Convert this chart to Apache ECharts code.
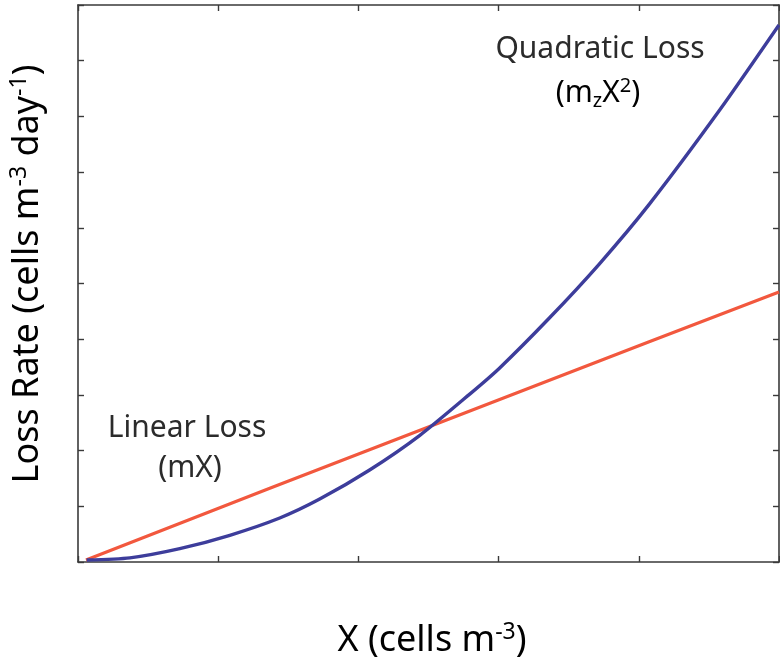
<!DOCTYPE html>
<html>
<head>
<meta charset="utf-8">
<script src="https://cdn.jsdelivr.net/npm/echarts@6/dist/echarts.min.js"></script>
<style>
  html, body { margin: 0; padding: 0; background: #fff; }
  #chart { width: 780px; height: 671px; }
</style>
</head>
<body>
<div id="chart"></div>
<script>
// Population density X (cells m^-3) and loss rate readings for both loss terms
const linearX = [0.057, 1.368, 4.074, 5.0];
const linearY = [0.036, 1.323, 3.955, 4.847];

const quadX = [0.062, 0.370, 0.726, 1.083, 1.439, 1.724, 2.080, 2.436, 2.792, 3.006, 3.362, 3.718, 4.074, 4.573, 5.0];
const quadY = [0.036, 0.075, 0.240, 0.480, 0.790, 1.130, 1.652, 2.270, 3.010, 3.480, 4.380, 5.350, 6.420, 8.100, 9.641];

const xRange = [0, 5];
const yRange = [0, 10];

const FONT = '"Noto Sans", "Open Sans", sans-serif';
const TEXT = '#2b2b2b';
const AXIS = '#3a3a3a';

const pairs = (xs, ys) => xs.map((x, i) => [x, ys[i]]);

// rich-text styles for axis titles (large) and curve annotations (smaller)
const big = { fontSize: 36, fontFamily: FONT, color: TEXT };
const bigSup = { fontSize: 23, fontFamily: FONT, color: TEXT, padding: [0, 0, 17, 0] };
const note = { fontSize: 30, fontFamily: FONT, color: TEXT };
const noteSup = { fontSize: 20, fontFamily: FONT, color: TEXT, padding: [0, 0, 14, 0] };
const noteSub = { fontSize: 20, fontFamily: FONT, color: TEXT, padding: [16, 0, 0, 0] };

const boxAxis = (extra) => Object.assign({
  type: 'value',
  axisLine: { show: true, onZero: false, lineStyle: { color: AXIS, width: 1.6 } },
  axisTick: { show: true, inside: true, length: 6, lineStyle: { color: AXIS, width: 1.4 } },
  axisLabel: { show: false },
  splitLine: { show: false }
}, extra);

const chart = echarts.init(document.getElementById('chart'), null, { renderer: 'canvas' });

chart.setOption({
  backgroundColor: '#ffffff',
  animation: false,
  grid: { left: 78, top: 5, width: 701, height: 557, containLabel: false, outerBoundsMode: 'none' },
  xAxis: [
    boxAxis({ position: 'bottom', min: xRange[0], max: xRange[1], interval: 1 }),
    boxAxis({ position: 'top', min: xRange[0], max: xRange[1], interval: 1 })
  ],
  yAxis: [
    boxAxis({ position: 'left', min: yRange[0], max: yRange[1], interval: 1 }),
    boxAxis({ position: 'right', min: yRange[0], max: yRange[1], interval: 1 })
  ],
  series: [
    {
      name: 'Linear Loss',
      type: 'line',
      data: pairs(linearX, linearY),
      showSymbol: false,
      lineStyle: { color: '#f2583e', width: 3.2 },
      z: 2
    },
    {
      name: 'Quadratic Loss',
      type: 'line',
      data: pairs(quadX, quadY),
      smooth: 0.25,
      showSymbol: false,
      lineStyle: { color: '#3d3d9b', width: 3.4 },
      z: 3
    }
  ],
  graphic: [
    {
      type: 'text', x: 432, y: 641,
      style: {
        text: '{b|X (cells m}{s|-3}{b|)}',
        align: 'center', verticalAlign: 'middle',
        rich: { b: big, s: bigSup }
      }
    },
    {
      type: 'text', x: 28, y: 274, rotation: Math.PI / 2,
      style: {
        text: '{b|Loss Rate (cells m}{s|-3}{b| day}{s|-1}{b|)}',
        align: 'center', verticalAlign: 'middle',
        rich: { b: big, s: bigSup }
      }
    },
    {
      type: 'text', x: 600, y: 49,
      style: { text: 'Quadratic Loss', font: '30px ' + FONT, fill: TEXT, align: 'center', verticalAlign: 'middle' }
    },
    {
      type: 'text', x: 598, y: 93,
      style: {
        text: '{b|(m}{d|z}{b|X}{s|2}{b|)}',
        align: 'center', verticalAlign: 'middle',
        rich: { b: note, s: noteSup, d: noteSub }
      }
    },
    {
      type: 'text', x: 187, y: 428,
      style: { text: 'Linear Loss', font: '30px ' + FONT, fill: TEXT, align: 'center', verticalAlign: 'middle' }
    },
    {
      type: 'text', x: 190, y: 468,
      style: { text: '(mX)', font: '30px ' + FONT, fill: TEXT, align: 'center', verticalAlign: 'middle' }
    }
  ]
});
</script>
</body>
</html>
